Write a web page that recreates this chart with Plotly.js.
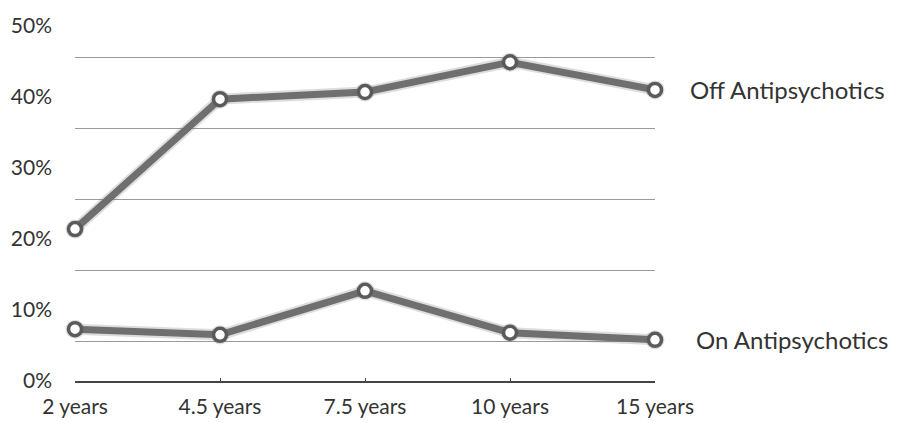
<!DOCTYPE html>
<html>
<head>
<meta charset="utf-8">
<script src="https://cdn.plot.ly/plotly-3.0.1.min.js"></script>
<style>html,body{margin:0;padding:0;background:#fff;}#chart{width:901px;height:423px;}</style>
</head>
<body>
<div id="chart"></div>
<script>
const categories = ["2 years", "4.5 years", "7.5 years", "10 years", "15 years"];
const offAntipsychotics = [21.4, 39.7, 40.7, 44.9, 41.0];
const onAntipsychotics = [7.3, 6.5, 12.7, 6.8, 5.8];
const seriesNames = ["Off Antipsychotics", "On Antipsychotics"];
const yTickVals = [0, 10, 20, 30, 40, 50];
const yTickText = ["0%", "10%", "20%", "30%", "40%", "50%"];
const gridVals = [5.5, 15.5, 25.5, 35.5, 45.5];

const FONT = "Lato, 'Open Sans', sans-serif";
const idx = categories.map((c, i) => i);

function series(vals, name) {
  return {
    x: idx, y: vals, name: name, type: "scatter", mode: "lines+markers",
    cliponaxis: false,
    line: {color: "#6f6f6f", width: 7},
    marker: {size: 13, color: "#ffffff", line: {color: "#5a5a5a", width: 3.5}},
    hoverinfo: "skip"
  };
}
// soft halo to mimic the printed blur
function halo(vals) {
  return {
    x: idx, y: vals, type: "scatter", mode: "lines+markers", cliponaxis: false,
    line: {color: "rgba(120,120,120,0.25)", width: 11},
    marker: {size: 19, color: "rgba(120,120,120,0.25)"},
    hoverinfo: "skip", showlegend: false
  };
}

const data = [
  {x: [0, 4], y: [0, 0], yaxis: "y2", type: "scatter", mode: "none", hoverinfo: "skip", showlegend: false},
  halo(offAntipsychotics), halo(onAntipsychotics),
  series(offAntipsychotics, seriesNames[0]),
  series(onAntipsychotics, seriesNames[1])
];

const layout = {
  width: 901, height: 423,
  margin: {l: 75, r: 246, t: 26, b: 42},
  paper_bgcolor: "#ffffff", plot_bgcolor: "#ffffff",
  showlegend: false,
  font: {family: FONT, color: "#333333"},
  xaxis: {
    range: [0, 4], tickvals: idx, ticktext: categories,
    showgrid: false, zeroline: false,
    showline: true, linecolor: "#444444", linewidth: 1.5,
    ticks: "inside", ticklen: 3, tickcolor: "#444444",
    tickfont: {family: FONT, size: 21, color: "#333333"},
    ticklabelstandoff: 6,
    fixedrange: true
  },
  yaxis: {
    range: [0, 50], tickvals: yTickVals, ticktext: yTickText,
    showgrid: false, zeroline: false, showline: false,
    tickfont: {family: FONT, size: 21, color: "#333333"},
    ticklabelstandoff: 22,
    fixedrange: true
  },
  yaxis2: {
    range: [0, 50], overlaying: "y", tickvals: gridVals,
    showticklabels: false, showgrid: true, gridcolor: "#9a9a9a", gridwidth: 1,
    zeroline: false, showline: false, layer: "below traces"
  },
  annotations: [
    {xref: "paper", x: 1, yref: "y", y: offAntipsychotics[4], xshift: 33,
     xanchor: "left", yanchor: "middle", showarrow: false, text: seriesNames[0],
     font: {family: FONT, size: 24, color: "#333333"}},
    {xref: "paper", x: 1, yref: "y", y: onAntipsychotics[4], xshift: 39,
     xanchor: "left", yanchor: "middle", showarrow: false, text: seriesNames[1],
     font: {family: FONT, size: 24, color: "#333333"}}
  ]
};

Plotly.newPlot("chart", data, layout, {displayModeBar: false, staticPlot: true});
</script>
</body>
</html>
